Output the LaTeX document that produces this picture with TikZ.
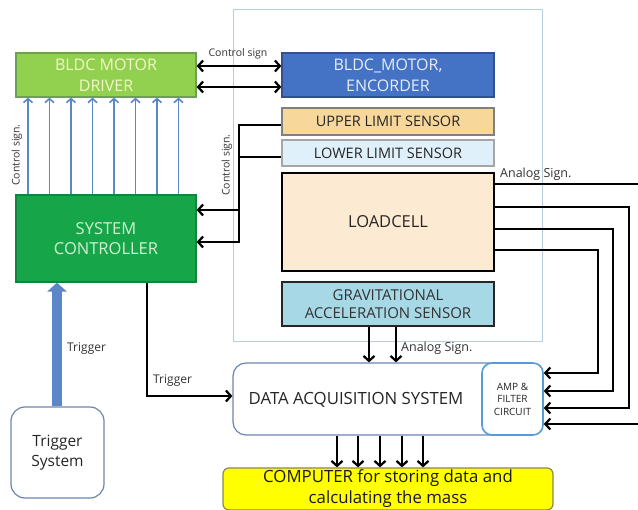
\documentclass[tikz,border=0pt]{standalone}
\usepackage{fontspec}
\setmainfont{Open Sans}
\usetikzlibrary{arrows.meta}
\definecolor{drvc}{HTML}{92D050}
\definecolor{drvb}{HTML}{6E9E5A}
\definecolor{drvt}{HTML}{F4F9C8}
\definecolor{encc}{HTML}{4472C4}
\definecolor{encb}{HTML}{2F528F}
\definecolor{enct}{HTML}{E8EEF8}
\definecolor{upc}{HTML}{F8D89A}
\definecolor{loc}{HTML}{E0F0FA}
\definecolor{lcc}{HTML}{FCEAD2}
\definecolor{gasc}{HTML}{A6D8E6}
\definecolor{scc}{HTML}{17A54A}
\definecolor{sct}{HTML}{D2F2D2}
\definecolor{framec}{HTML}{B8CCE0}
\definecolor{rbord}{HTML}{6A86B0}
\definecolor{ampb}{HTML}{5B9BD5}
\definecolor{compc}{HTML}{FFFF00}
\definecolor{compb}{HTML}{8A8A50}
\definecolor{barr}{HTML}{5B87C8}
\definecolor{lbl}{HTML}{333333}
\tikzset{
  box/.style={draw, line width=1.2pt, align=center, inner sep=0pt},
  blk/.style={line width=2.2pt, draw=black, arrows={-Straight Barb[length=5pt,width=11pt]}},
  blkd/.style={line width=2.2pt, draw=black, arrows={Straight Barb[length=5pt,width=11pt]-Straight Barb[length=5pt,width=11pt]}},
  bluearr/.style={line width=1.6pt, draw=barr, arrows={-Straight Barb[length=4pt,width=9pt]}},
  trig/.style={line width=10pt, draw=barr, arrows={-Triangle[length=9pt,width=19pt]}},
  lab/.style={text=lbl, inner sep=0pt},
}
\begin{document}
\begin{tikzpicture}[x=1pt,y=-1pt]
\useasboundingbox (0,0) rectangle (638,510);
\clip (0,0) rectangle (638,510);
\fill[white] (0,0) rectangle (638,510);
% frame
\node[draw=framec, line width=1pt, minimum width=309pt, minimum height=332pt, inner sep=0pt] (frame) at (387.5,176) {};
% nodes
\node[box, draw=drvb, fill=drvc, text=drvt, font=\fontsize{16}{21}\selectfont, minimum width=180pt, minimum height=44pt] (drv) at (106,75) {BLDC MOTOR\\DRIVER};
\node[box, draw=encb, fill=encc, text=enct, font=\fontsize{16}{21}\selectfont, minimum width=212pt, minimum height=44pt] (enc) at (388,75) {BLDC\_MOTOR,\\ENCORDER};
\node[box, draw=gray, fill=upc, text=black!85, font=\fontsize{14.5}{18}\selectfont, minimum width=212pt, minimum height=27pt] (up) at (388,121.5) {UPPER LIMIT SENSOR};
\node[box, draw=gray!70, fill=loc, text=black!85, font=\fontsize{14.5}{18}\selectfont, minimum width=212pt, minimum height=26pt] (lo) at (388,153) {LOWER LIMIT SENSOR};
\node[box, draw=black, line width=2pt, fill=lcc, text=black!85, font=\fontsize{16.5}{20}\selectfont, minimum width=212pt, minimum height=98pt] (lc) at (388,222) {LOADCELL};
\node[box, draw=black!85, line width=2pt, fill=gasc, text=black!80, font=\fontsize{15}{18}\selectfont, minimum width=212pt, minimum height=44pt] (gas) at (388,304) {GRAVITATIONAL\\ACCELERATION SENSOR};
\node[box, draw=scc!80!black, fill=scc, text=sct, font=\fontsize{16.5}{20}\selectfont, minimum width=180pt, minimum height=87pt] (sc) at (106,238.5) {SYSTEM\\CONTROLLER};
\node[box, draw=rbord, fill=white, rounded corners=14pt, text=black!85, font=\fontsize{15.5}{20}\selectfont, minimum width=93pt, minimum height=91pt] (ts) at (57.5,452.5) {Trigger\\System};
\node[box, draw=rbord, fill=white, rounded corners=13pt, minimum width=310pt, minimum height=72pt] (daq) at (388,399) {};
\node[lab, text=black!85, font=\fontsize{16.8}{20}\selectfont] (daqt) at (356,400) {DATA ACQUISITION SYSTEM};
\node[box, draw=ampb, line width=1.6pt, fill=white, rounded corners=10pt, text=black!85, font=\fontsize{10}{12.5}\selectfont, minimum width=61pt, minimum height=72pt] (amp) at (512.5,399) {AMP \&\\FILTER\\CIRCUIT};
\node[box, draw=compb, fill=compc, rounded corners=6pt, text=black!90, font=\fontsize{16.8}{21}\selectfont, minimum width=330pt, minimum height=42pt] (comp) at (388,489) {COMPUTER for storing data and\\calculating the mass};
% blue arrows driver <- controller
\foreach \xx in {28,49.5,71,92.5,114,135.5,157,178.5}
  \draw[bluearr] (sc.north -| \xx,0) -- (drv.south -| \xx,0);
\node[lab, rotate=90, font=\fontsize{10.5}{12}\selectfont] (cs1) at (17,155) {Control sign.};
% driver <-> encoder
\draw[blkd] (drv.east |- 0,66) -- (enc.west |- 0,66);
\draw[blkd] (drv.east |- 0,87) -- (enc.west |- 0,87);
\node[lab, font=\fontsize{10.5}{12}\selectfont] (cs2) at (238,54) {Control sign};
% limit sensors -> controller
\draw[blk] (up.west |- 0,125) -| (239,242) -- (sc.east |- 0,242);
\draw[blk] (lo.west |- 0,157) -| (239,210) -- (sc.east |- 0,210);
\node[lab, rotate=90, font=\fontsize{10.5}{12}\selectfont] (cs3) at (227,165) {Control sign.};
% loadcell analog lines -> amp
\draw[blk] (lc.east |- 0,184) -| (660,424) -- (amp.east |- 0,424);
\draw[blk] (lc.east |- 0,207) -| (629,408) -- (amp.east |- 0,408);
\draw[blk] (lc.east |- 0,229) -| (613,391) -- (amp.east |- 0,391);
\draw[blk] (lc.east |- 0,250) -| (598,373) -- (amp.east |- 0,373);
\node[lab, anchor=west, font=\fontsize{12.5}{14}\selectfont] (as1) at (500,174) {Analog Sign.};
% gravitational -> daq
\draw[blk] (gas.south -| 369,0) -- (daq.north -| 369,0);
\draw[blk] (gas.south -| 396,0) -- (daq.north -| 396,0);
\node[lab, anchor=west, font=\fontsize{12.5}{14}\selectfont] (as2) at (401,348) {Analog Sign.};
% controller -> daq trigger
\draw[blk] (sc.south -| 147,0) |- (daq.west |- 0,396);
\node[lab, anchor=west, font=\fontsize{12}{14}\selectfont] (tg2) at (153,381) {Trigger};
% trigger system -> controller
\draw[trig] (ts.north -| 57,0) -- (sc.south -| 57,0);
\node[lab, anchor=west, font=\fontsize{12}{14}\selectfont] (tg1) at (67,349) {Trigger};
% daq -> computer
\foreach \xx in {337,358,380,402,423}
  \draw[blk] (daq.south -| \xx,0) -- (comp.north -| \xx,0);
\end{tikzpicture}
\end{document}
